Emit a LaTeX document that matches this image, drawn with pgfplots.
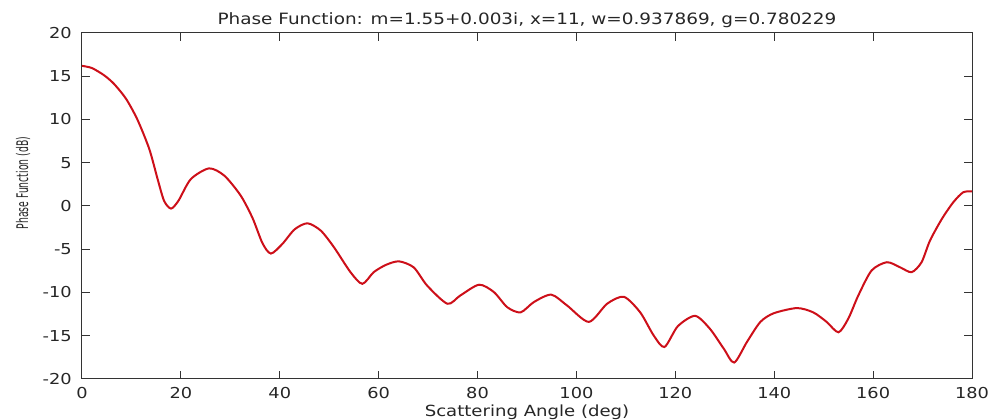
\documentclass[border=0pt]{standalone}
\usepackage{fontspec}
\setmainfont{DejaVu Sans}[FakeStretch=1.18]
\newfontfamily\ylabfont{DejaVu Sans}
\usepackage{pgfplots}
\pgfplotsset{compat=1.18}
\definecolor{curvered}{RGB}{205,15,25}
\begin{document}
\begin{tikzpicture}
\path[use as bounding box] (-61.5pt,-30.75pt) rectangle (682.5pt,284.25pt);
\begin{axis}[
  scale only axis,
  width=667.5pt, height=259.5pt,
  xmin=0, xmax=180, ymin=-20, ymax=20,
  xtick={0,20,...,180}, ytick={-20,-15,...,20},
  tick align=inside,
  major tick length=6pt,
  axis line style={black!80, line width=0.75pt},
  every tick/.style={black!80, line width=0.75pt},
  /pgf/number format/assume math mode=true,
  tick label style={font=\fontsize{11.3pt}{13pt}\selectfont, text=black!85},
  xticklabel style={anchor=north, inner sep=0pt, yshift=-6pt},
  yticklabel style={anchor=east, inner sep=0pt, xshift=-7.5pt},
  every axis title shift=0pt,
  title={Phase Function: m=1.55+0.003i, x=11, w=0.937869, g=0.780229},
  title style={at={(axis description cs:0.5,1)}, anchor=base, inner sep=0pt, yshift=6pt, font=\fontsize{11.7pt}{14pt}\selectfont, text=black!85},
  xlabel={Scattering Angle (deg)},
  xlabel style={at={(axis description cs:0.5,0)}, anchor=base, inner sep=0pt, yshift=-28.5pt, font=\fontsize{11.5pt}{14pt}\selectfont, text=black!85},
  ylabel={\scalebox{0.58}[1]{\ylabfont\fontsize{12pt}{14pt}\selectfont Phase Function (dB)}},
  ylabel style={at={(axis description cs:-0.0663,0.566)}, rotate=0, anchor=center, inner sep=0pt, text=black!85},
]
\addplot[curvered, line width=1.5pt, smooth, tension=0.45] coordinates {
(0,16.2) (2,15.95) (4.5,15.1) (6.5,14.1) (8.9,12.4) (11.2,10.0) (13.6,6.6)
(15.3,3.1) (16.6,0.6) (18,-0.3) (19.5,0.6) (22,3.1) (25.7,4.35) (28.8,3.5)
(32.1,1.2) (34.5,-1.4) (36.5,-4.3) (38.2,-5.5) (40.5,-4.4) (43,-2.7) (45.6,-2.0)
(48.3,-2.85) (51,-4.8) (54.3,-7.65) (56.7,-9.0) (59,-7.65) (61.5,-6.8) (64.1,-6.4)
(67.1,-7.1) (69.8,-9.2) (73.9,-11.3) (76.5,-10.35) (80.3,-9.1) (83.3,-9.95)
(86,-11.7) (88.7,-12.3) (91.4,-11.1) (94.9,-10.25) (98.1,-11.5) (102.5,-13.4)
(106.2,-11.3) (109.6,-10.5) (112.9,-12.3) (115.6,-14.95) (117.8,-16.3)
(120.5,-13.9) (124,-12.7) (127,-14.2) (129.8,-16.5) (131.9,-18.1) (134.5,-15.7)
(137.2,-13.4) (139.9,-12.4) (144.6,-11.8) (147.9,-12.3) (150.6,-13.4)
(153,-14.6) (155,-13.0) (157,-10.35) (159.7,-7.45) (162.8,-6.5) (165.5,-7.1)
(167.8,-7.65) (169.8,-6.5) (171.5,-4.0) (173.9,-1.5) (176.2,0.42) (178.2,1.58)
(180,1.7)
};
\end{axis}
\end{tikzpicture}
\end{document}
